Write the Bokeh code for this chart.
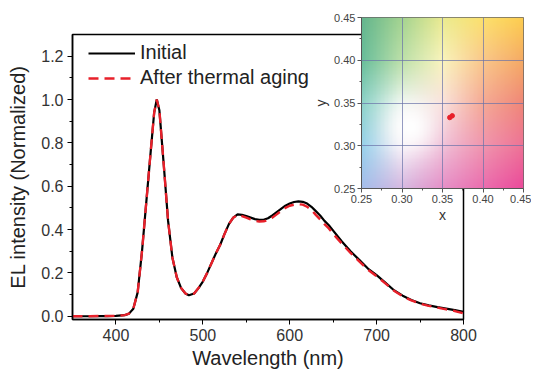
import numpy as np
from bokeh.plotting import figure
from bokeh.models import FixedTicker, PrintfTickFormatter, Range1d, Legend, LegendItem
from bokeh.embed import file_html
from bokeh.resources import INLINE

# ---------------- data ----------------
wavelength = [350, 360, 370, 380, 390, 400, 410, 415, 420, 425, 430, 435, 440, 444, 447, 450,
              455, 460, 465, 470, 475, 480, 484, 490, 495, 500, 505, 510, 515, 520, 525, 530,
              535, 540, 545, 550, 555, 560, 565, 570, 575, 580, 585, 590, 595, 600, 605, 610,
              615, 620, 625, 630, 635, 640, 645, 650, 660, 670, 680, 690, 700, 710, 720, 730,
              740, 750, 760, 770, 780, 790, 800]
initial = [0.000, 0.000, 0.000, 0.001, 0.001, 0.002, 0.005, 0.012, 0.035, 0.11, 0.30, 0.53, 0.76, 0.94, 1.00, 0.95,
           0.70, 0.44, 0.27, 0.18, 0.13, 0.105, 0.097, 0.105, 0.13, 0.16, 0.20, 0.245, 0.29, 0.33, 0.38, 0.425,
           0.455, 0.470, 0.468, 0.462, 0.455, 0.448, 0.445, 0.445, 0.452, 0.465, 0.48, 0.495, 0.51, 0.52, 0.527, 0.53,
           0.528, 0.52, 0.505, 0.485, 0.465, 0.44, 0.42, 0.395, 0.345, 0.30, 0.26, 0.22, 0.19, 0.155, 0.12, 0.095,
           0.075, 0.06, 0.05, 0.042, 0.035, 0.028, 0.02]
aged = [0.000, 0.000, 0.000, 0.001, 0.001, 0.002, 0.005, 0.012, 0.035, 0.11, 0.30, 0.53, 0.76, 0.94, 1.00, 0.95,
        0.70, 0.44, 0.27, 0.18, 0.13, 0.105, 0.097, 0.105, 0.13, 0.16, 0.20, 0.245, 0.29, 0.33, 0.38, 0.425,
        0.455, 0.468, 0.462, 0.455, 0.447, 0.44, 0.437, 0.438, 0.444, 0.455, 0.47, 0.485, 0.50, 0.51, 0.515, 0.517,
        0.515, 0.505, 0.49, 0.468, 0.447, 0.425, 0.405, 0.38, 0.335, 0.292, 0.253, 0.215, 0.185, 0.152, 0.118, 0.092,
        0.073, 0.058, 0.048, 0.04, 0.032, 0.024, 0.013]
series_names = ["Initial", "After thermal aging"]

x_ticks = [400, 500, 600, 700, 800]
x_minor = [450, 550, 650, 750]
y_ticks = [0.0, 0.2, 0.4, 0.6, 0.8, 1.0, 1.2]
y_minor = [0.1, 0.3, 0.5, 0.7, 0.9, 1.1]

cie_x = [0.359, 0.362]
cie_y = [0.333, 0.335]
cie_ticks = [0.25, 0.30, 0.35, 0.40, 0.45]
cie_minor = [0.275, 0.325, 0.375, 0.425]

FONT = "Liberation Sans"

# ---------------- main figure ----------------
p = figure(frame_width=391, frame_height=285, output_backend="svg", toolbar_location=None,
           x_range=Range1d(350, 800), y_range=Range1d(-0.015, 1.3),
           min_border_left=72, min_border_top=34, min_border_right=70, min_border_bottom=46)
p.styles = {"position": "absolute", "left": "0px", "top": "0px"}
p.background_fill_color = "white"
p.border_fill_color = "white"
p.outline_line_color = "black"
p.outline_line_width = 1.5
p.grid.visible = False

l1 = p.line(wavelength, initial, line_color="black", line_width=2.2)
l2 = p.line(wavelength, aged, line_color="#e8202a", line_width=2.4, line_dash="10 6")

p.xaxis.ticker = FixedTicker(ticks=x_ticks, minor_ticks=x_minor)
p.yaxis.ticker = FixedTicker(ticks=y_ticks, minor_ticks=y_minor)
p.yaxis.formatter = PrintfTickFormatter(format="%.1f")
for ax in (p.xaxis[0], p.yaxis[0]):
    ax.axis_line_width = 1.5
    ax.axis_line_color = "black"
    ax.major_tick_line_color = "black"
    ax.minor_tick_line_color = "black"
    ax.major_tick_in = 0
    ax.major_tick_out = 5
    ax.minor_tick_in = 0
    ax.minor_tick_out = 3
    ax.major_label_text_font = FONT
    ax.major_label_text_font_size = "16px"
    ax.major_label_text_color = "#333333"
    ax.axis_label_text_font = FONT
    ax.axis_label_text_font_size = "20px"
    ax.axis_label_text_font_style = "normal"
    ax.axis_label_text_color = "#222222"
p.xaxis.axis_label = "Wavelength (nm)"
p.yaxis.axis_label = "EL intensity (Normalized)"
p.xaxis.major_label_standoff = 4
p.xaxis.axis_label_standoff = 3
p.yaxis.major_label_standoff = 4
p.yaxis.axis_label_standoff = 9

legend = Legend(items=[LegendItem(label=series_names[0], renderers=[l1]),
                       LegendItem(label=series_names[1], renderers=[l2])],
                location=(14, 228))
legend.background_fill_alpha = 0
legend.border_line_alpha = 0
legend.glyph_width = 47
legend.glyph_height = 20
legend.label_standoff = 5
legend.spacing = 2
legend.padding = 2
legend.label_text_font = FONT
legend.label_text_font_size = "20px"
legend.label_text_color = "#222222"
p.add_layout(legend)

# ---------------- inset (CIE) ----------------
q = figure(frame_width=162, frame_height=171, output_backend="svg", toolbar_location=None,
           x_range=Range1d(0.25, 0.45), y_range=Range1d(0.25, 0.45),
           min_border_left=61, min_border_top=17, min_border_right=8, min_border_bottom=36)
q.styles = {"position": "absolute", "left": "300px", "top": "0px", "z-index": "2"}
q.border_fill_alpha = 0
q.background_fill_alpha = 0
q.outline_line_color = "#666666"
q.outline_line_width = 1

# background colour field (visual styling)
node_cols = np.array([
    [(165, 190, 235), (215, 185, 225), (230, 145, 200), (235, 110, 175), (235, 75, 155)],   # y=0.25
    [(150, 210, 235), (245, 235, 245), (240, 190, 215), (240, 150, 175), (238, 115, 150)],  # y=0.30
    [(140, 210, 200), (235, 245, 235), (250, 225, 220), (245, 170, 150), (240, 135, 120)],  # y=0.35
    [(105, 190, 155), (190, 225, 170), (250, 245, 190), (250, 200, 140), (245, 170, 100)],  # y=0.40
    [(100, 182, 142), (165, 212, 145), (235, 235, 145), (252, 225, 110), (253, 205, 80)],   # y=0.45
], dtype=float)
N = 120
gx = np.linspace(0, 4, N)
gy = np.linspace(0, 4, N)
GX, GY = np.meshgrid(gx, gy)
i0 = np.clip(np.floor(GY).astype(int), 0, 3)
j0 = np.clip(np.floor(GX).astype(int), 0, 3)
fy = (GY - i0)[..., None]
fx = (GX - j0)[..., None]
c = (node_cols[i0, j0] * (1 - fx) * (1 - fy) + node_cols[i0, j0 + 1] * fx * (1 - fy)
     + node_cols[i0 + 1, j0] * (1 - fx) * fy + node_cols[i0 + 1, j0 + 1] * fx * fy)
xx = 0.25 + GX * 0.05
yy = 0.25 + GY * 0.05
w = np.exp(-(((xx - 0.31) / 0.03) ** 2 + ((yy - 0.322) / 0.03) ** 2))[..., None]
c = c * (1 - w) + 255 * w
c = np.clip(c, 0, 255).astype(np.uint32)
img = (255 << 24) | (c[..., 2] << 16) | (c[..., 1] << 8) | c[..., 0]
img = img.astype(np.uint32)
q.image_rgba(image=[img], x=0.25, y=0.25, dw=0.2, dh=0.2)

q.scatter(cie_x, cie_y, size=4.5, fill_color="#e8202a", line_color="#e8202a")

for ax in (q.xaxis[0], q.yaxis[0]):
    ax.ticker = FixedTicker(ticks=cie_ticks, minor_ticks=cie_minor)
    ax.formatter = PrintfTickFormatter(format="%.2f")
    ax.axis_line_color = "#555555"
    ax.axis_line_width = 1
    ax.major_tick_line_color = "#555555"
    ax.minor_tick_line_color = "#555555"
    ax.major_tick_in = 0
    ax.major_tick_out = 4
    ax.minor_tick_in = 0
    ax.minor_tick_out = 2
    ax.major_label_text_font = FONT
    ax.major_label_text_font_size = "11px"
    ax.major_label_text_color = "#444444"
    ax.axis_label_text_font = FONT
    ax.axis_label_text_font_size = "14px"
    ax.axis_label_text_font_style = "normal"
    ax.axis_label_text_color = "#333333"
q.xaxis.axis_label = "x"
q.yaxis.axis_label = "y"
q.xaxis.major_label_standoff = 2
q.xaxis.axis_label_standoff = 1
q.yaxis.major_label_standoff = 2
q.yaxis.axis_label_standoff = 2

for g in (q.xgrid[0], q.ygrid[0]):
    g.ticker = FixedTicker(ticks=[0.30, 0.35, 0.40])
    g.grid_line_color = "#6a72a8"
    g.grid_line_alpha = 0.7
    g.grid_line_width = 1
    g.level = "overlay"

open("out.html", "w").write(file_html([p, q], INLINE))
